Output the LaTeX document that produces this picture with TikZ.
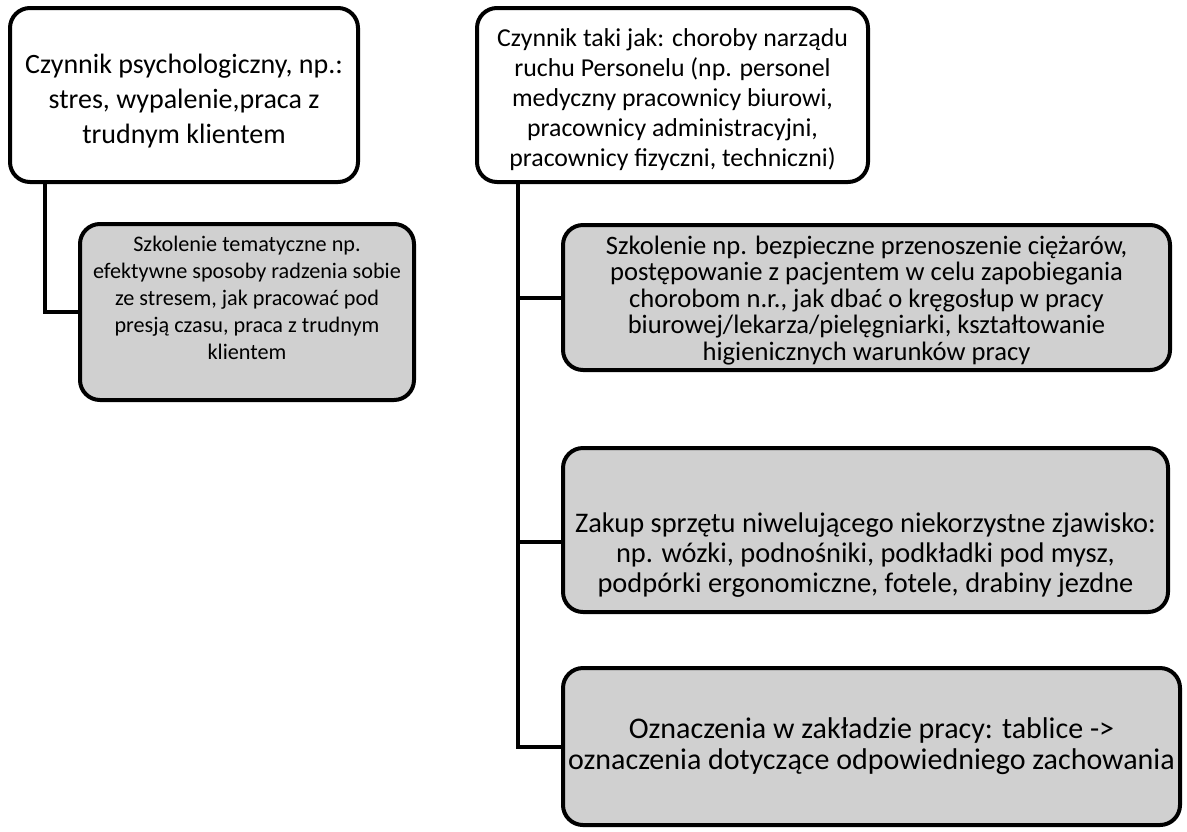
\documentclass[tikz,border=0pt]{standalone}
\usepackage{fontspec}
\setmainfont{Carlito}
\definecolor{boxgray}{RGB}{208,208,208}
\tikzset{
  factor/.style={draw, line width=2pt, rounded corners=10pt, fill=white, align=center, inner sep=0pt},
  action/.style={factor, fill=boxgray},
  link/.style={line width=2pt}
}
\begin{document}
\begin{tikzpicture}[x=0.5pt,y=-0.5pt]
    \useasboundingbox (0,0) rectangle (1187,831);
    % left branch
    \node[factor, minimum width=174pt, minimum height=87pt, font=\fontsize{14}{17.5}\selectfont] (psych) at (184,95)
        {\rule{0pt}{16pt}Czynnik psychologiczny, np.:\\stres, wypalenie,praca z\\trudnym klientem};
    \node[action, minimum width=167pt, minimum height=88pt, font=\fontsize{11.1}{13.5}\selectfont] (stres) at (247,312)
        {Szkolenie tematyczne np.\\efektywne sposoby radzenia sobie\\ze stresem, jak pracować pod\\presją czasu, praca z trudnym\\klientem\rule[-14pt]{0pt}{14pt}};
    \draw[link] (psych.south west) ++(37,0) |- (stres.west);
    % right branch
    \node[factor, minimum width=195.5pt, minimum height=87pt, font=\fontsize{12.9}{15}\selectfont] (ruch) at (672.5,95)
        {\rule{0pt}{14pt}Czynnik taki jak: choroby narządu\\ruchu Personelu (np. personel\\medyczny pracownicy biurowi,\\pracownicy administracyjni,\\pracownicy fizyczni, techniczni)};
    \node[action, minimum width=303.5pt, minimum height=72.5pt, font=\fontsize{13.3}{13.3}\selectfont] (ciezary) at (866.5,297.5)
        {\rule{0pt}{12pt}Szkolenie np. bezpieczne przenoszenie ciężarów,\\postępowanie z pacjentem w celu zapobiegania\\chorobom n.r., jak dbać o kręgosłup w pracy\\biurowej/lekarza/pielęgniarki, kształtowanie\\higienicznych warunków pracy};
    \node[action, minimum width=302.5pt, minimum height=82pt, font=\fontsize{14.2}{15}\selectfont] (sprzet) at (865.5,530)
        {\rule{0pt}{35pt}Zakup sprzętu niwelującego niekorzystne zjawisko:\\np. wózki, podnośniki, podkładki pod mysz,\\podpórki ergonomiczne, fotele, drabiny jezdne};
    \node[action, minimum width=308.5pt, minimum height=78.5pt, font=\fontsize{15}{15.5}\selectfont] (tablice) at (871.5,746.5)
        {Oznaczenia w zakładzie pracy: tablice ->\\oznaczenia dotyczące odpowiedniego zachowania};
    \path (ruch.south west) ++(43,0) coordinate (trunk);
    \draw[link] (trunk) |- (tablice.west);
    \draw[link] (trunk |- ciezary.west) -- (ciezary.west);
    \draw[link] ([yshift=-6pt]trunk |- sprzet.west) -- ([yshift=-6pt]sprzet.west);
\end{tikzpicture}
\end{document}
